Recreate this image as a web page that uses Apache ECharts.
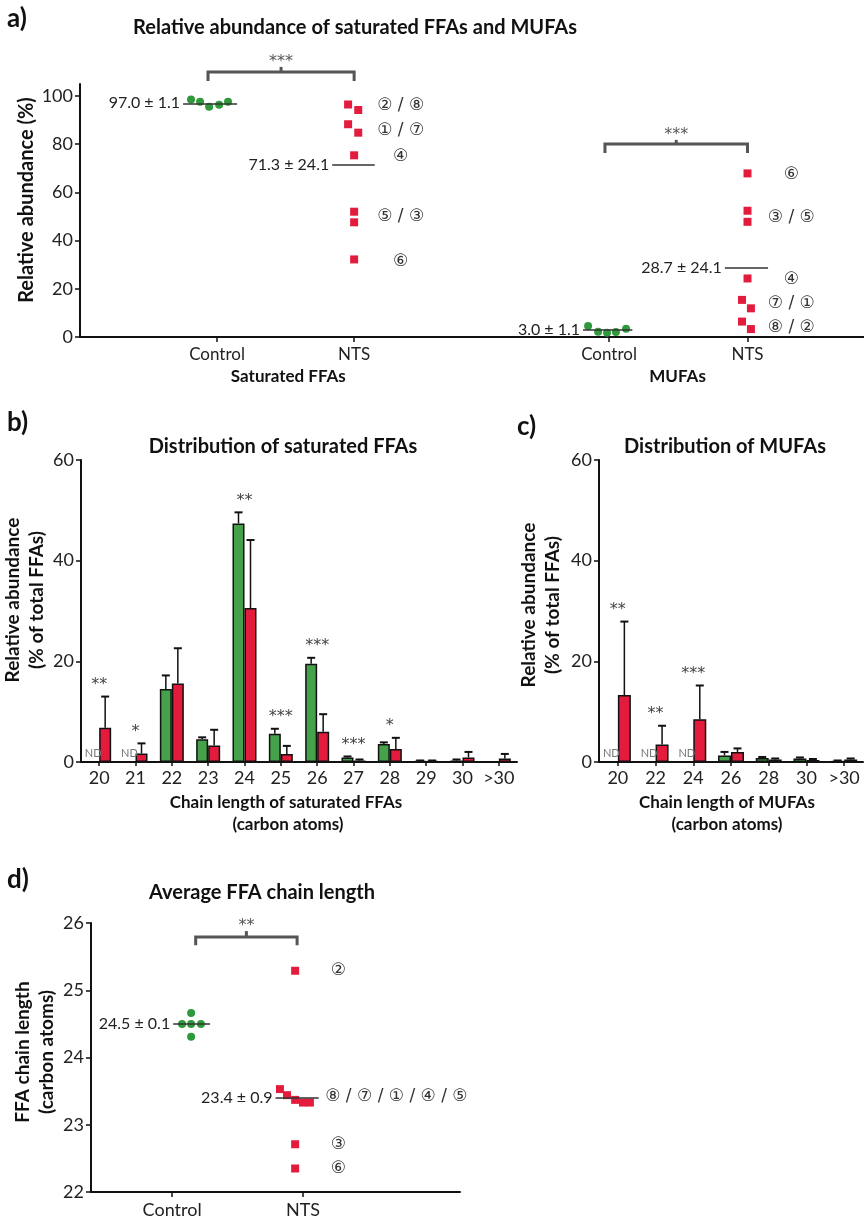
<!DOCTYPE html>
<html>
<head>
<meta charset="utf-8">
<script src="https://cdn.jsdelivr.net/npm/echarts@6/dist/echarts.min.js"></script>
<style>
  html, body { margin: 0; padding: 0; background: #fff; }
  #chart { width: 864px; height: 1219px; }
</style>
</head>
<body>
<div id="chart"></div>
<script>
// ---- a) relative abundance (%) ----
const groupNames = ['Control', 'NTS', 'Control', 'NTS']
const satControl = [98.6, 97.6, 95.6, 96.4, 97.6]
const satNTS = [96.5, 94.2, 88.3, 84.8, 75.4, 52.0, 47.6, 32.2]
const mufaControl = [4.6, 2.2, 1.8, 2.1, 3.4]
const mufaNTS = [67.9, 52.4, 47.8, 24.3, 15.4, 11.9, 6.4, 3.3]
const meanValues = [97.0, 71.3, 3.0, 28.7]
const meanLabels = ['97.0 ± 1.1', '71.3 ± 24.1', '3.0 ± 1.1', '28.7 ± 24.1']
const satNTSIds = ['② / ⑧', '① / ⑦', '④', '⑤ / ③', '⑥']
const satNTSIdY = [95.9, 85.5, 74.7, 49.8, 31.1]
const mufaNTSIds = ['⑥', '③ / ⑤', '④', '⑦ / ①', '⑧ / ②']
const mufaNTSIdY = [67.6, 49.4, 23.7, 13.7, 4.1]

// ---- b) saturated FFAs by chain length ----
const satChain = ['20', '21', '22', '23', '24', '25', '26', '27', '28', '29', '30', '>30']
const satCtrlMean = [0, 0, 14.5, 4.5, 47.4, 5.6, 19.5, 0.9, 3.6, 0.2, 0.3, 0]
const satCtrlSD = [0, 0, 2.7, 0.4, 2.2, 1.0, 1.2, 0.2, 0.3, 0.1, 0.2, 0]
const satNTSMean = [6.8, 1.7, 15.6, 3.3, 30.6, 1.6, 6.0, 0.3, 2.6, 0.2, 0.9, 0.7]
const satNTSSD = [6.2, 2.0, 7.0, 3.1, 13.5, 1.6, 3.5, 0.2, 2.2, 0.1, 1.1, 0.9]
const satND = [1, 1, 0, 0, 0, 0, 0, 0, 0, 0, 0, 0]
const satStars = ['**', '*', '', '', '**', '***', '***', '***', '*', '', '', '']

// ---- c) MUFAs by chain length ----
const mufaChain = ['20', '22', '24', '26', '28', '30', '>30']
const mufaCtrlMean = [0, 0, 0, 1.3, 0.8, 0.7, 0.2]
const mufaCtrlSD = [0, 0, 0, 0.7, 0.2, 0.2, 0.1]
const mufaNTSMean = [13.3, 3.5, 8.5, 2.0, 0.5, 0.4, 0.5]
const mufaNTSSD = [14.6, 3.7, 6.7, 0.7, 0.2, 0.2, 0.2]
const mufaND = [1, 1, 1, 0, 0, 0, 0]
const mufaStars = ['**', '**', '***', '', '', '', '']

// ---- d) average chain length ----
const chainNames = ['Control', 'NTS']
const chainControl = [24.5, 24.5, 24.5, 24.66, 24.31]
const chainNTS = [25.29, 23.53, 23.44, 23.37, 23.33, 23.33, 22.71, 22.35]
const chainMeans = [24.5, 23.4]
const chainMeanLabels = ['24.5 ± 0.1', '23.4 ± 0.9']
const chainIds = ['②', '⑧ / ⑦ / ① / ④ / ⑤', '③', '⑥']
const chainIdY = [25.29, 23.42, 22.71, 22.35]

// layout: x positions of groups and the horizontal spread of the dots
const groupX = [1, 2, 3.86, 4.87]
const satControlDx = [-0.19, -0.124, -0.058, 0.015, 0.08]
const satNTSDx = [-0.044, 0.03, -0.044, 0.03, 0, 0, 0, 0]
const mufaControlDx = [-0.153, -0.08, -0.015, 0.05, 0.124]
const mufaNTSDx = [0, 0, 0, 0, -0.04, 0.025, -0.04, 0.025]
const meanSpanA = [[-0.248, 0.146], [-0.16, 0.15], [-0.19, 0.17], [-0.165, 0.15]]
const chainX = [1, 2]
const chainControlDx = [0.076, 0.145, 0.22, 0.145, 0.145]
const chainNTSDx = [-0.06, -0.176, -0.122, -0.06, 0, 0.053, -0.06, -0.06]
const meanSpanD = [[0.008, 0.29], [-0.21, 0.12]]

const FONT = 'Lato, "DejaVu Sans", sans-serif'
const STAR_FONT = '16px "DejaVu Sans", sans-serif'
const GREEN = '#2e9a3b'
const GREEN_BAR = '#45a14a'
const RED = '#e31c3d'
const INK = '#222'

const chart = echarts.init(document.getElementById('chart'))

function points (vals, x0, dx) {
  return vals.map((v, i) => [x0 + dx[i], v])
}

function meanLine (x0, span, y, text) {
  return {
    symbol: 'none',
    silent: true,
    animation: false,
    lineStyle: { color: '#333', width: 1.5, type: 'solid' },
    label: { show: true, position: 'start', distance: 3, formatter: text, color: INK, fontSize: 16, fontFamily: FONT },
    emphasis: { disabled: true },
    data: [[{ coord: [x0 + span[0], y] }, { coord: [x0 + span[1], y] }]]
  }
}

function dots (gi, vals, x0, dx, ctrl, ml) {
  return {
    type: 'scatter',
    xAxisIndex: gi,
    yAxisIndex: gi,
    symbol: ctrl ? 'circle' : 'rect',
    symbolSize: 8,
    itemStyle: { color: ctrl ? GREEN : RED, opacity: 1 },
    data: points(vals, x0, dx),
    markLine: ml,
    z: 3
  }
}

function ndBars (vals, nd) {
  return vals.map((v, i) => nd[i]
    ? { value: 0, label: { show: true, formatter: 'ND', position: 'top', distance: 2, color: '#777', fontSize: 11, fontFamily: FONT } }
    : v)
}

function errorBars (gi, means, sds, side, barW) {
  return {
    type: 'custom',
    xAxisIndex: gi,
    yAxisIndex: gi,
    z: 4,
    silent: true,
    data: means.map((m, i) => [i, m, m + sds[i], sds[i]]),
    renderItem (params, api) {
      if (!(api.value(3) > 0)) return
      const base = api.coord([api.value(0), api.value(1)])
      const top = api.coord([api.value(0), api.value(2)])
      const x = base[0] + side * barW / 2
      return {
        type: 'group',
        children: [
          { type: 'line', shape: { x1: x, y1: base[1], x2: x, y2: top[1] }, style: { stroke: '#111', lineWidth: 1.5 } },
          { type: 'line', shape: { x1: x - 4, y1: top[1], x2: x + 4, y2: top[1] }, style: { stroke: '#111', lineWidth: 2 } }
        ]
      }
    }
  }
}

function starMarks (gi, stars, m1, s1, m2, s2) {
  return {
    type: 'custom',
    xAxisIndex: gi,
    yAxisIndex: gi,
    z: 5,
    silent: true,
    data: stars.map((s, i) => [i, Math.max(m1[i] + s1[i], m2[i] + s2[i])]),
    renderItem (params, api) {
      const s = stars[params.dataIndex]
      if (!s) return
      const p = api.coord([api.value(0), api.value(1)])
      return {
        type: 'text',
        x: p[0],
        y: p[1] - 12,
        style: { text: s, textAlign: 'center', textVerticalAlign: 'middle', fill: '#444', font: STAR_FONT }
      }
    }
  }
}

function nearestName (v, xs, names) {
  let best = 0
  xs.forEach((x, i) => { if (Math.abs(x - v) < Math.abs(xs[best] - v)) best = i })
  return names[best]
}

const axisLine = { show: true, lineStyle: { color: '#111', width: 2 } }
const tickStyle = { show: true, length: 5, lineStyle: { color: '#111', width: 1.5 } }
const labelStyle = (size) => ({ color: INK, fontSize: size, fontFamily: FONT })

const option = {
  animation: false,
  textStyle: { fontFamily: FONT },
  grid: [
    { left: 80, top: 84, width: 784, height: 253 },
    { left: 81, top: 460, width: 436, height: 302 },
    { left: 599, top: 460, width: 264, height: 302 },
    { left: 91, top: 923, width: 369, height: 269 }
  ],
  xAxis: [
    {
      gridIndex: 0, type: 'value', min: 0, max: 5.72,
      axisLine, splitLine: { show: false },
      axisTick: Object.assign({}, tickStyle, { customValues: groupX }),
      axisLabel: Object.assign(labelStyle(17), { margin: 9, customValues: groupX, formatter: v => nearestName(v, groupX, groupNames) })
    },
    {
      gridIndex: 1, type: 'category', data: satChain,
      axisLine, axisTick: Object.assign({}, tickStyle, { alignWithLabel: true, length: 4 }),
      axisLabel: Object.assign(labelStyle(18), { margin: 7, interval: 0 })
    },
    {
      gridIndex: 2, type: 'category', data: mufaChain,
      axisLine, axisTick: Object.assign({}, tickStyle, { alignWithLabel: true, length: 4 }),
      axisLabel: Object.assign(labelStyle(18), { margin: 7, interval: 0 })
    },
    {
      gridIndex: 3, type: 'value', min: 0.38, max: 3.2,
      axisLine, splitLine: { show: false },
      axisTick: Object.assign({}, tickStyle, { customValues: chainX }),
      axisLabel: Object.assign(labelStyle(18), { margin: 9, customValues: chainX, formatter: v => nearestName(v, chainX, chainNames) })
    }
  ],
  yAxis: [
    {
      gridIndex: 0, type: 'value', min: 0, max: 105, interval: 20,
      axisLine, splitLine: { show: false },
      axisTick: Object.assign({}, tickStyle, { customValues: [0, 20, 40, 60, 80, 100] }),
      axisLabel: Object.assign(labelStyle(18), { margin: 7, customValues: [0, 20, 40, 60, 80, 100] })
    },
    {
      gridIndex: 1, type: 'value', min: 0, max: 60, interval: 20,
      axisLine, splitLine: { show: false }, axisTick: tickStyle,
      axisLabel: Object.assign(labelStyle(18), { margin: 7 })
    },
    {
      gridIndex: 2, type: 'value', min: 0, max: 60, interval: 20,
      axisLine, splitLine: { show: false }, axisTick: tickStyle,
      axisLabel: Object.assign(labelStyle(18), { margin: 7 })
    },
    {
      gridIndex: 3, type: 'value', min: 22, max: 26, interval: 1,
      axisLine, splitLine: { show: false }, axisTick: tickStyle,
      axisLabel: Object.assign(labelStyle(18), { margin: 7 })
    }
  ],
  series: [
    dots(0, satControl, groupX[0], satControlDx, true, meanLine(groupX[0], meanSpanA[0], meanValues[0], meanLabels[0])),
    dots(0, satNTS, groupX[1], satNTSDx, false, meanLine(groupX[1], meanSpanA[1], meanValues[1], meanLabels[1])),
    dots(0, mufaControl, groupX[2], mufaControlDx, true, meanLine(groupX[2], meanSpanA[2], meanValues[2], meanLabels[2])),
    dots(0, mufaNTS, groupX[3], mufaNTSDx, false, meanLine(groupX[3], meanSpanA[3], meanValues[3], meanLabels[3])),

    { type: 'bar', xAxisIndex: 1, yAxisIndex: 1, barWidth: 12, barGap: '0%', data: ndBars(satCtrlMean, satND), itemStyle: { color: GREEN_BAR, borderColor: '#111', borderWidth: 1.5 } },
    { type: 'bar', xAxisIndex: 1, yAxisIndex: 1, barWidth: 12, barGap: '0%', data: satNTSMean, itemStyle: { color: RED, borderColor: '#111', borderWidth: 1.5 } },
    errorBars(1, satCtrlMean, satCtrlSD, -1, 12),
    errorBars(1, satNTSMean, satNTSSD, 1, 12),
    starMarks(1, satStars, satCtrlMean, satCtrlSD, satNTSMean, satNTSSD),

    { type: 'bar', xAxisIndex: 2, yAxisIndex: 2, barWidth: 13, barGap: '0%', data: ndBars(mufaCtrlMean, mufaND), itemStyle: { color: GREEN_BAR, borderColor: '#111', borderWidth: 1.5 } },
    { type: 'bar', xAxisIndex: 2, yAxisIndex: 2, barWidth: 13, barGap: '0%', data: mufaNTSMean, itemStyle: { color: RED, borderColor: '#111', borderWidth: 1.5 } },
    errorBars(2, mufaCtrlMean, mufaCtrlSD, -1, 13),
    errorBars(2, mufaNTSMean, mufaNTSSD, 1, 13),
    starMarks(2, mufaStars, mufaCtrlMean, mufaCtrlSD, mufaNTSMean, mufaNTSSD),

    dots(3, chainControl, chainX[0], chainControlDx, true, meanLine(chainX[0], meanSpanD[0], chainMeans[0], chainMeanLabels[0])),
    dots(3, chainNTS, chainX[1], chainNTSDx, false, meanLine(chainX[1], meanSpanD[1], chainMeans[1], chainMeanLabels[1]))
  ]
}

chart.setOption(option)

// annotations placed through the axes
const px = (g, p) => chart.convertToPixel({ gridIndex: g }, p)

function text (x, y, s, font, opts) {
  return {
    type: 'text', x, y, silent: true,
    style: Object.assign({ text: s, font, fill: '#111', textAlign: 'center', textVerticalAlign: 'middle' }, opts || {})
  }
}

function bracket (g, x1, x2, yTop, yLeg, yTick, stars) {
  const a = px(g, [x1, yLeg])
  const b = px(g, [x1, yTop])
  const c = px(g, [x2, yTop])
  const d = px(g, [x2, yLeg])
  const t1 = px(g, [(x1 + x2) / 2, yTop])
  const t2 = px(g, [(x1 + x2) / 2, yTick])
  return [
    { type: 'polyline', silent: true, shape: { points: [a, b, c, d] }, style: { stroke: '#555', lineWidth: 3, fill: null } },
    { type: 'line', silent: true, shape: { x1: t1[0], y1: t1[1], x2: t2[0], y2: t2[1] }, style: { stroke: '#555', lineWidth: 3 } },
    text(t2[0], t2[1] - 5, stars, STAR_FONT, { fill: '#555' })
  ]
}

const ID_FONT = '17px "DejaVu Sans", sans-serif'
const TITLE_FONT = 'bold 20px ' + FONT
const AXIS_FONT = 'bold 17px ' + FONT
const g = []

// panel letters and titles
g.push(text(7, 19, 'a)', 'bold 26px ' + FONT, { textAlign: 'left' }))
g.push(text(7, 423, 'b)', 'bold 26px ' + FONT, { textAlign: 'left' }))
g.push(text(517, 427, 'c)', 'bold 26px ' + FONT, { textAlign: 'left' }))
g.push(text(7, 880, 'd)', 'bold 26px ' + FONT, { textAlign: 'left' }))
g.push(text(355, 28, 'Relative abundance of saturated FFAs and MUFAs', TITLE_FONT))
g.push(text(283, 447, 'Distribution of saturated FFAs', TITLE_FONT))
g.push(text(725, 447, 'Distribution of MUFAs', TITLE_FONT))
g.push(text(262, 893, 'Average FFA chain length', TITLE_FONT))

// y axis names
g.push(Object.assign(text(27, 200, 'Relative abundance (%)', 'bold 20px ' + FONT), { rotation: Math.PI / 2 }))
g.push(Object.assign(text(25, 600, 'Relative abundance\n(% of total FFAs)', 'bold 19px ' + FONT, { lineHeight: 24 }), { rotation: Math.PI / 2 }))
g.push(Object.assign(text(541, 605, 'Relative abundance\n(% of total FFAs)', 'bold 19px ' + FONT, { lineHeight: 24 }), { rotation: Math.PI / 2 }))
g.push(Object.assign(text(35, 1052, 'FFA chain length\n(carbon atoms)', 'bold 19px ' + FONT, { lineHeight: 24 }), { rotation: Math.PI / 2 }))

// x axis names
const sg = px(0, [1.52, 0])
const mg = px(0, [4.36, 0])
g.push(text(sg[0], 377, 'Saturated FFAs', AXIS_FONT))
g.push(text(mg[0], 377, 'MUFAs', AXIS_FONT))
g.push(text(286, 803, 'Chain length of saturated FFAs', AXIS_FONT))
g.push(text(288, 825, '(carbon atoms)', AXIS_FONT))
g.push(text(727, 803, 'Chain length of MUFAs', AXIS_FONT))
g.push(text(727, 825, '(carbon atoms)', AXIS_FONT))

// significance brackets
g.push(...bracket(0, 0.934, 2.0, 110, 106.2, 112.1, '***'))
g.push(...bracket(0, 3.83, 4.87, 80.1, 76.4, 81.8, '***'))
g.push(...bracket(3, 1.18, 1.955, 25.79, 25.67, 25.88, '**'))

// sample ids next to NTS points
satNTSIds.forEach((s, i) => {
  const p = px(0, [groupX[1] + 0.34, satNTSIdY[i]])
  g.push(text(p[0], p[1], s, ID_FONT, { fill: '#333' }))
})
mufaNTSIds.forEach((s, i) => {
  const p = px(0, [groupX[3] + 0.32, mufaNTSIdY[i]])
  g.push(text(p[0], p[1], s, ID_FONT, { fill: '#333' }))
})
chainIds.forEach((s, i) => {
  const p = px(3, [chainX[1] + (i === 1 ? 0.17 : 0.27), chainIdY[i]])
  g.push(text(p[0], p[1], s, ID_FONT, { fill: '#333', textAlign: i === 1 ? 'left' : 'center' }))
})

chart.setOption({ graphic: g })
</script>
</body>
</html>
